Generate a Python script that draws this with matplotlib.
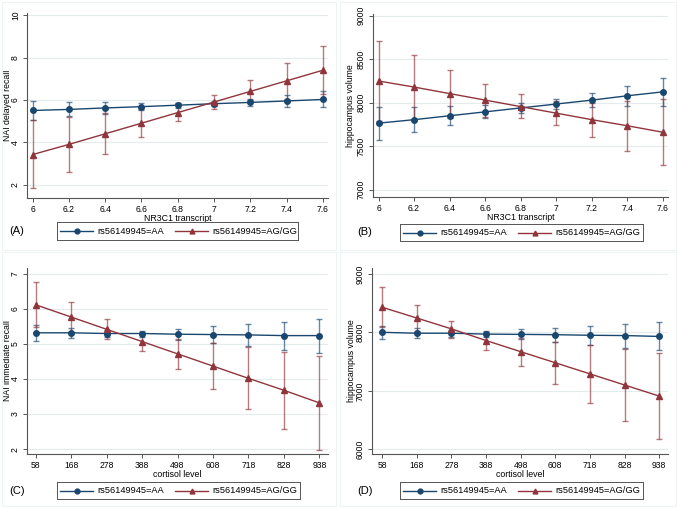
import numpy as np
import matplotlib
matplotlib.use("Agg")
import matplotlib.pyplot as plt
from matplotlib.patches import Rectangle

plt.rcParams["font.family"] = ["Liberation Sans", "DejaVu Sans"]

# --- data ---
nr3c1 = [6, 6.2, 6.4, 6.6, 6.8, 7, 7.2, 7.4, 7.6]
nr3c1_labels = ["6", "6.2", "6.4", "6.6", "6.8", "7", "7.2", "7.4", "7.6"]
cortisol = [58, 168, 278, 388, 498, 608, 718, 828, 938]
legend_labels = ["rs56149945=AA", "rs56149945=AG/GG"]

# (A) NAI delayed recall
a_aa = [5.50, 5.55, 5.62, 5.68, 5.75, 5.82, 5.88, 5.95, 6.02]
a_aa_lo = [5.05, 5.22, 5.35, 5.50, 5.63, 5.70, 5.70, 5.65, 5.65]
a_aa_hi = [5.95, 5.92, 5.90, 5.87, 5.87, 5.95, 6.05, 6.25, 6.40]
a_ag = [3.42, 3.90, 4.40, 4.90, 5.40, 5.90, 6.40, 6.90, 7.40]
a_ag_lo = [1.82, 2.60, 3.45, 4.25, 5.00, 5.57, 6.00, 6.05, 6.27]
a_ag_hi = [5.03, 5.20, 5.37, 5.55, 5.85, 6.25, 6.95, 7.72, 8.52]

# (B) hippocampus volume vs NR3C1
b_aa = [7765, 7805, 7850, 7895, 7940, 7985, 8030, 8080, 8125]
b_aa_lo = [7575, 7660, 7740, 7830, 7880, 7930, 7950, 7960, 7960]
b_aa_hi = [7950, 7950, 7960, 7970, 8000, 8040, 8110, 8190, 8280]
b_ag = [8250, 8180, 8105, 8030, 7955, 7880, 7805, 7735, 7660]
b_ag_lo = [7790, 7805, 7830, 7840, 7820, 7745, 7610, 7450, 7285]
b_ag_hi = [8710, 8550, 8380, 8220, 8095, 8025, 8000, 8025, 8045]

# (C) NAI immediate recall
c_aa = [5.32, 5.32, 5.30, 5.30, 5.28, 5.27, 5.26, 5.24, 5.24]
c_aa_lo = [5.10, 5.17, 5.20, 5.20, 5.12, 5.03, 4.93, 4.83, 4.74]
c_aa_hi = [5.55, 5.46, 5.39, 5.38, 5.43, 5.50, 5.57, 5.64, 5.72]
c_ag = [6.12, 5.77, 5.42, 5.07, 4.72, 4.37, 4.02, 3.68, 3.32]
c_ag_lo = [5.48, 5.35, 5.15, 4.79, 4.28, 3.72, 3.14, 2.56, 1.98]
c_ag_hi = [6.77, 6.20, 5.70, 5.35, 5.15, 5.03, 4.92, 4.78, 4.66]

# (D) hippocampus volume vs cortisol
d_aa = [8000, 7985, 7985, 7970, 7965, 7960, 7950, 7945, 7930]
d_aa_lo = [7880, 7910, 7920, 7920, 7880, 7840, 7790, 7730, 7690]
d_aa_hi = [8100, 8070, 8040, 8030, 8050, 8080, 8110, 8150, 8180]
d_ag = [8430, 8245, 8060, 7860, 7670, 7480, 7290, 7100, 6910]
d_ag_lo = [8090, 8020, 7910, 7700, 7420, 7120, 6800, 6480, 6170]
d_ag_hi = [8770, 8460, 8200, 8010, 7900, 7840, 7780, 7720, 7650]

BLUE = "#1a476f"
RED = "#90353b"
GRID = "#e4ecee"

fig = plt.figure(figsize=(6.78, 5.08), dpi=100)
W, H = 678, 508


def px(x0, y0, x1, y1):
    return [x0 / W, 1 - y1 / H, (x1 - x0) / W, (y1 - y0) / H]


# faint panel borders
for (x0, y0, x1, y1) in [(2, 2, 336, 250), (340, 2, 676, 250),
                         (2, 252, 336, 506), (340, 252, 676, 506)]:
    fig.patches.append(Rectangle((x0 / W, 1 - y1 / H), (x1 - x0) / W, (y1 - y0) / H,
                                 transform=fig.transFigure, fill=False,
                                 edgecolor="#eef3f4", linewidth=0.8))


def panel(rect, x, aa, aa_lo, aa_hi, ag, ag_lo, ag_hi, xlim, ylim, yticks,
          xticklabels, xlabel, ylabel, ylab_x, tag, leg_rect, tag_xy):
    ax = fig.add_axes(px(*rect))
    for vals, lo, hi, col, mk in [(aa, aa_lo, aa_hi, BLUE, "o"),
                                  (ag, ag_lo, ag_hi, RED, "^")]:
        v = np.array(vals)
        yerr = [v - np.array(lo), np.array(hi) - v]
        ax.errorbar(x, v, yerr=yerr, fmt="none", ecolor=col, alpha=0.65,
                    elinewidth=1.0, capsize=2.5, capthick=1.0, zorder=2)
        ax.plot(x, v, color=col, lw=1.0, marker=mk, ms=4, zorder=3)
    ax.set_xlim(*xlim)
    ax.set_ylim(*ylim)
    ax.set_xticks(x)
    ax.set_xticklabels(xticklabels)
    ax.set_yticks(yticks)
    ax.set_yticklabels([str(t) for t in yticks], rotation=90, va="center")
    ax.grid(axis="y", color=GRID, lw=0.8)
    ax.set_axisbelow(True)
    for s in ["top", "right"]:
        ax.spines[s].set_visible(False)
    for s in ["left", "bottom"]:
        ax.spines[s].set_color("#555555")
        ax.spines[s].set_linewidth(0.8)
    ax.tick_params(labelsize=6.2, length=3, width=0.7, color="#555555", pad=2)
    ax.set_xlabel(xlabel, fontsize=6.3, labelpad=0)
    ax.set_ylabel(ylabel, fontsize=6.3)
    ax.yaxis.set_label_coords(ylab_x, 0.5)

    # legend box below the panel, entries laid out like Stata's
    lx0, ly0, lx1, ly1 = leg_rect
    lax = fig.add_axes(px(lx0, ly0, lx1, ly1))
    lax.set_xlim(0, lx1 - lx0)
    lax.set_ylim(0, 1)
    lax.set_xticks([])
    lax.set_yticks([])
    for s in lax.spines.values():
        s.set_color("#555555")
        s.set_linewidth(0.7)
    for (l0, l1, t0), col, mk, lab in zip([(3, 36, 40), (118, 151, 155)],
                                          [BLUE, RED], ["o", "^"], legend_labels):
        lax.plot([l0, l1], [0.5, 0.5], color=col, lw=1.0)
        lax.plot([(l0 + l1) / 2], [0.5], color=col, marker=mk, ms=3.5)
        lax.text(t0, 0.5, lab, fontsize=6.7, va="center", ha="left")
    fig.text(tag_xy[0] / W, 1 - tag_xy[1] / H, tag, fontsize=8,
             va="center", ha="left")
    return ax


panel((27, 13, 328, 198), nr3c1, a_aa, a_aa_lo, a_aa_hi, a_ag, a_ag_lo, a_ag_hi,
      (5.969, 7.628), (1.37, 10.1), [2, 4, 6, 8, 10], nr3c1_labels,
      "NR3C1 transcript", "NAI delayed recall", -0.05, "(A)", (57, 222, 298, 240), (9, 231))

panel((373, 14, 668, 197), nr3c1, b_aa, b_aa_lo, b_aa_hi, b_ag, b_ag_lo, b_ag_hi,
      (5.969, 7.628), (6916, 9020), [7000, 7500, 8000, 8500, 9000], nr3c1_labels,
      "NR3C1 transcript", "hippocampus volume", -0.061, "(B)", (400, 224, 643, 241), (357, 232))

panel((27, 268, 328, 454), cortisol, c_aa, c_aa_lo, c_aa_hi, c_ag, c_ag_lo, c_ag_hi,
      (31, 965), (1.86, 7.17), [2, 3, 4, 5, 6, 7], [str(c) for c in cortisol],
      "cortisol level", "NAI immediate recall", -0.05, "(C)", (57, 482, 300, 499), (9, 491))

panel((372, 268, 668, 454), cortisol, d_aa, d_aa_lo, d_aa_hi, d_ag, d_ag_lo, d_ag_hi,
      (26, 966), (5920, 9100), [6000, 7000, 8000, 9000], [str(c) for c in cortisol],
      "cortisol level", "hippocampus volume", -0.054, "(D)", (400, 482, 643, 499), (357, 491))

fig.savefig("out.png", dpi=100)
